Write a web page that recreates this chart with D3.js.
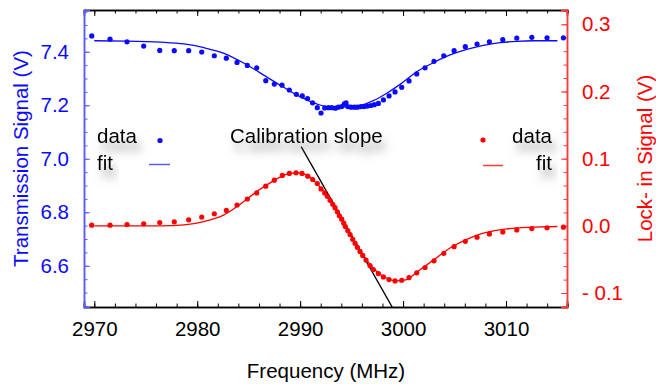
<!DOCTYPE html>
<html>
<head>
<meta charset="utf-8">
<script src="https://cdn.jsdelivr.net/npm/d3@7"></script>
<style>
  body { margin: 0; background: #fff; }
  text { font-family: "Liberation Sans", Arial, sans-serif; }
</style>
</head>
<body>
<div id="chart"></div>
<script>
// transmission (blue) data points
const transFreq = [2969.75, 2971.53, 2973.18, 2974.80, 2976.36, 2977.77, 2979.17, 2980.44, 2981.66, 2982.83,
  2983.87, 2984.87, 2985.78, 2986.66, 2987.49, 2988.24, 2988.95, 2989.63, 2990.21, 2990.72,
  2991.21, 2991.67, 2992.03, 2992.39, 2992.74, 2993.07, 2993.42, 2993.71, 2994.04, 2994.30,
  2994.46, 2994.63, 2994.95, 2995.27, 2995.56, 2995.89, 2996.21, 2996.53, 2996.86, 2997.21,
  2997.60, 2998.09, 2998.64, 2999.22, 2999.87, 3000.58, 3001.33, 3002.14, 3003.01, 3003.96,
  3004.96, 3006.05, 3007.19, 3008.39, 3009.69, 3011.05, 3012.51, 3013.99, 3015.58];
const transVal = [7.459, 7.447, 7.437, 7.421, 7.405, 7.404, 7.404, 7.399, 7.385, 7.376,
  7.360, 7.349, 7.340, 7.292, 7.279, 7.275, 7.257, 7.241, 7.235, 7.225,
  7.209, 7.191, 7.171, 7.190, 7.191, 7.191, 7.189, 7.193, 7.195, 7.205,
  7.209, 7.195, 7.193, 7.193, 7.193, 7.195, 7.195, 7.197, 7.199, 7.202,
  7.207, 7.220, 7.235, 7.250, 7.267, 7.291, 7.317, 7.340, 7.364, 7.385,
  7.404, 7.419, 7.429, 7.437, 7.445, 7.451, 7.454, 7.452, 7.452];

// transmission fit
const transFitFreq = [2970.0, 2973.2, 2976.45, 2978.72, 2980.66, 2982.60, 2984.55, 2986.75, 2988.37, 2989.99,
  2991.61, 2992.91, 2994.36, 2995.82, 2997.11, 2998.42, 2999.71, 3001.33, 3002.94, 3004.57,
  3006.19, 3007.80, 3009.43, 3011.05, 3012.66, 3015.0];
const transFitVal = [7.441, 7.440, 7.436, 7.429, 7.415, 7.394, 7.357, 7.306, 7.268, 7.232,
  7.205, 7.194, 7.194, 7.199, 7.217, 7.245, 7.278, 7.325, 7.359, 7.388,
  7.409, 7.424, 7.434, 7.439, 7.441, 7.441];

// lock-in (red) data points
const lockFreq = [2969.75, 2971.53, 2973.18, 2974.80, 2976.36, 2977.77, 2979.17, 2980.44, 2981.66, 2982.83,
  2983.87, 2984.87, 2985.78, 2986.66, 2987.49, 2988.27, 2988.95, 2989.60, 2990.18, 2990.74,
  2991.22, 2991.67, 2992.03, 2992.39, 2992.64, 2992.91, 2993.17, 2993.39, 2993.62, 2993.81,
  2994.04, 2994.24, 2994.39, 2994.63, 2994.85, 2995.11, 2995.34, 2995.56, 2995.82, 2996.08,
  2996.40, 2996.79, 2997.11, 2997.60, 2998.09, 2998.64, 2999.22, 2999.87, 3000.58, 3001.33,
  3002.14, 3003.01, 3003.96, 3004.96, 3006.05, 3007.19, 3008.39, 3009.69, 3011.05, 3012.51,
  3013.99, 3015.58];
const lockVal = [0.001, 0.001, 0.002, 0.003, 0.005, 0.006, 0.009, 0.013, 0.018, 0.023,
  0.031, 0.040, 0.049, 0.059, 0.068, 0.075, 0.078, 0.079, 0.078, 0.074,
  0.069, 0.063, 0.055, 0.049, 0.044, 0.038, 0.032, 0.027, 0.021, 0.015,
  0.010, 0.004, -0.001, -0.007, -0.013, -0.020, -0.026, -0.032, -0.038, -0.044,
  -0.051, -0.059, -0.065, -0.071, -0.076, -0.080, -0.082, -0.081, -0.077, -0.070,
  -0.062, -0.052, -0.041, -0.031, -0.023, -0.017, -0.012, -0.009, -0.006, -0.004,
  -0.003, -0.002];

// lock-in fit
const lockFitFreq = [2970.0, 2973.2, 2976.45, 2978.72, 2980.66, 2982.60, 2984.16, 2985.78, 2987.40, 2988.70,
  2989.67, 2990.64, 2991.61, 2992.58, 2993.56, 2994.53, 2995.50, 2996.47, 2997.44, 2998.42,
  2999.39, 3000.36, 3001.33, 3002.94, 3004.57, 3006.19, 3007.80, 3009.43, 3011.05, 3012.66, 3015.0];
const lockFitVal = [0.000, 0.000, 0.000, 0.0015, 0.0064, 0.0164, 0.032, 0.051, 0.067, 0.077,
  0.079, 0.076, 0.063, 0.046, 0.024, -0.003, -0.028, -0.051, -0.068, -0.078,
  -0.082, -0.080, -0.069, -0.051, -0.033, -0.020, -0.011, -0.006, -0.003, -0.002, -0.001];

// calibration slope line (on lock-in axis)
const slopeFreq = [2990.1, 2999.0];
const slopeVal = [0.118, -0.1224];

const xTicks = [2970, 2980, 2990, 3000, 3010];
const leftTicks = [6.6, 6.8, 7.0, 7.2, 7.4];
const rightTicks = [-0.1, 0.0, 0.1, 0.2, 0.3];
const rightTickLabels = ['- 0.1', '0.0', '0.1', '0.2', '0.3'];

const W = 656, H = 384;
const margin = {top: 10, right: 89, bottom: 77, left: 84};
const iw = W - margin.left - margin.right;
const ih = H - margin.top - margin.bottom;

const blue = '#0a0aff', blueAxis = '#5a5aff';
const red = '#ff0000', redAxis = '#ff3a3a';
const fs = '20.5px';

const svg = d3.select('#chart').append('svg')
  .attr('width', W).attr('height', H);

const defs = svg.append('defs');
const shadow = defs.append('filter').attr('id', 'shadow')
  .attr('x', '-30%').attr('y', '-50%').attr('width', '160%').attr('height', '250%');
shadow.append('feDropShadow')
  .attr('dx', 4).attr('dy', 9).attr('stdDeviation', 4.5)
  .attr('flood-color', '#666').attr('flood-opacity', 0.6);
defs.append('clipPath').attr('id', 'clip')
  .append('rect').attr('width', iw).attr('height', ih);

const g = svg.append('g').attr('transform', `translate(${margin.left},${margin.top})`);

const x = d3.scaleLinear().domain([2969.0, 3015.93]).range([0, iw]);
const yL = d3.scaleLinear().domain([6.446, 7.556]).range([ih, 0]);
const yR = d3.scaleLinear().domain([-0.1208, 0.3213]).range([ih, 0]);

function styleAxis(sel, color, textColor) {
  sel.select('.domain').attr('stroke', color).attr('stroke-width', 1.5);
  sel.selectAll('.tick line').attr('stroke', color);
  sel.selectAll('.tick text').attr('fill', textColor).style('font-size', fs)
    .style('font-family', '"Liberation Sans", Arial, sans-serif');
}

// bottom axis
const xMinor = d3.range(2970, 3016.1, 2);
const bx = g.append('g').attr('transform', `translate(0,${ih})`);
bx.append('g').call(d3.axisBottom(x).tickValues(xMinor).tickSize(-3.5).tickFormat(''))
  .call(s => styleAxis(s, '#000', '#000'));
bx.append('g').call(d3.axisBottom(x).tickValues(xTicks).tickSize(-6).tickPadding(14).tickFormat(d3.format('d')))
  .call(s => styleAxis(s, '#000', '#000'));

// top axis
const tx = g.append('g');
tx.append('g').call(d3.axisTop(x).tickValues(xMinor).tickSize(-3.5).tickFormat(''))
  .call(s => styleAxis(s, '#000', '#000'));
tx.append('g').call(d3.axisTop(x).tickValues(xTicks).tickSize(-6).tickFormat(''))
  .call(s => styleAxis(s, '#000', '#000'));

// left axis
const lMinor = d3.range(6.45, 7.56, 0.05);
const ly = g.append('g');
ly.append('g').call(d3.axisLeft(yL).tickValues(lMinor).tickSize(-3.5).tickFormat(''))
  .call(s => styleAxis(s, blueAxis, blue));
ly.append('g').call(d3.axisLeft(yL).tickValues(leftTicks).tickSize(-6).tickPadding(15).tickFormat(d3.format('.1f')))
  .call(s => styleAxis(s, blueAxis, blue));

// right axis
const rMinor = d3.range(-0.12, 0.321, 0.02);
const ry = g.append('g').attr('transform', `translate(${iw},0)`);
ry.append('g').call(d3.axisRight(yR).tickValues(rMinor).tickSize(-3.5).tickFormat(''))
  .call(s => styleAxis(s, redAxis, red));
ry.append('g').call(d3.axisRight(yR).tickValues(rightTicks).tickSize(-6).tickPadding(15)
    .tickFormat((d, i) => rightTickLabels[i]))
  .call(s => styleAxis(s, redAxis, red));

// axis titles
svg.append('text').attr('x', margin.left + 242).attr('y', 378)
  .attr('text-anchor', 'middle').style('font-size', fs).attr('fill', '#000')
  .text('Frequency (MHz)');
svg.append('text').attr('transform', `translate(28,${margin.top + ih / 2}) rotate(-90)`)
  .attr('text-anchor', 'middle').style('font-size', fs).attr('fill', blue)
  .text('Transmission Signal (V)');
svg.append('text').attr('transform', `translate(652,${margin.top + ih / 2}) rotate(-90)`)
  .attr('text-anchor', 'middle').style('font-size', fs).attr('fill', red)
  .text('Lock- in Signal (V)');

const plot = g.append('g').attr('clip-path', 'url(#clip)');

// fits
const line = d3.line().curve(d3.curveMonotoneX);
plot.append('path')
  .attr('d', line(transFitFreq.map((f, i) => [x(f), yL(transFitVal[i])])))
  .attr('fill', 'none').attr('stroke', blue).attr('stroke-width', 1.3);
plot.append('path')
  .attr('d', line(lockFitFreq.map((f, i) => [x(f), yR(lockFitVal[i])])))
  .attr('fill', 'none').attr('stroke', red).attr('stroke-width', 1.3);

// calibration slope
plot.append('path')
  .attr('d', d3.line()(slopeFreq.map((f, i) => [x(f), yR(slopeVal[i])])))
  .attr('stroke', '#000').attr('stroke-width', 1.3).attr('fill', 'none');

// data points
g.append('g').selectAll('circle').data(transFreq).join('circle')
  .attr('cx', d => x(d)).attr('cy', (d, i) => yL(transVal[i]))
  .attr('r', 2.6).attr('fill', blue);
g.append('g').selectAll('circle').data(lockFreq).join('circle')
  .attr('cx', d => x(d)).attr('cy', (d, i) => yR(lockVal[i]))
  .attr('r', 2.6).attr('fill', red);

// legends
const leg = svg.append('g');
function legText(xp, yp, t, anchor) {
  leg.append('text').attr('x', xp).attr('y', yp).attr('text-anchor', anchor || 'start')
    .style('font-size', fs).attr('fill', '#000').attr('filter', 'url(#shadow)').text(t);
}
legText(97, 143, 'data');
legText(97, 170, 'fit');
leg.append('circle').attr('cx', 160).attr('cy', 140.5).attr('r', 2.6).attr('fill', blue);
leg.append('line').attr('x1', 149).attr('x2', 170).attr('y1', 164.5).attr('y2', 164.5)
  .attr('stroke', blueAxis).attr('stroke-width', 1.5);

legText(552, 143, 'data', 'end');
legText(552, 170, 'fit', 'end');
leg.append('circle').attr('cx', 483).attr('cy', 140).attr('r', 2.6).attr('fill', red);
leg.append('line').attr('x1', 483).attr('x2', 503).attr('y1', 165.5).attr('y2', 165.5)
  .attr('stroke', redAxis).attr('stroke-width', 1.5);

legText(230, 143, 'Calibration slope');
</script>
</body>
</html>
